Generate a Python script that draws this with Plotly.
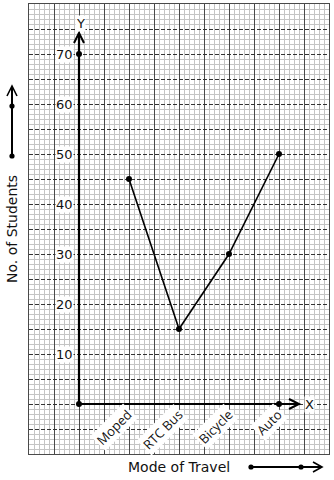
import math
import plotly.graph_objects as go

categories = ["Moped", "RTC Bus", "Bicycle", "Auto"]
students = [45, 15, 30, 50]
y_tick_values = [10, 20, 30, 40, 50, 60, 70]
x_title = "Mode of Travel"
y_title = "No. of Students"

W, H = 334, 480
ML, MR, MT, MB = 29, 5, 4, 26
X_RANGE = [-1, 5]
Y_RANGE = [-10, 80]
PW, PH = W - ML - MR, H - MT - MB
UX = PW / (X_RANGE[1] - X_RANGE[0])   # px per x unit
UY = PH / (Y_RANGE[1] - Y_RANGE[0])   # px per y unit

def pxp(px):  # pixel x -> paper
    return (px - ML) / PW

def pyp(py):  # pixel y -> paper
    return (H - MB - py) / PH

FONT = "DejaVu Sans"
LABEL_SIZE = 13
# approximate Open Sans advance widths (em/1000) for label layout
CW = {"M": 907, "o": 602, "p": 613, "e": 561, "d": 613, "R": 621, "T": 556, "C": 632,
      " ": 260, "B": 648, "u": 613, "s": 479, "i": 258, "c": 480, "y": 501, "l": 258,
      "A": 633, "t": 361}

def text_len(s, size):
    return sum(CW.get(ch, 600) for ch in s) / 1000 * size

xs = list(range(1, len(categories) + 1))

fig = go.Figure()

fig.add_trace(go.Scatter(
    x=xs, y=students, mode="lines+markers",
    line=dict(color="black", width=1.6),
    marker=dict(color="black", size=6),
    hoverinfo="skip", showlegend=False, cliponaxis=False,
))

shapes = []
black = "black"
x_tip = 4.4
y_tip = 74.2
shapes.append(dict(type="line", xref="x", yref="y", x0=0, y0=0, x1=x_tip, y1=0,
                   line=dict(color=black, width=2.2)))
shapes.append(dict(type="line", xref="x", yref="y", x0=0, y0=0, x1=0, y1=y_tip,
                   line=dict(color=black, width=2.2)))
shapes.append(dict(type="path", xref="x", yref="y",
                   path=f"M -0.1,{y_tip-2} L 0,{y_tip} L 0.1,{y_tip-2}",
                   line=dict(color=black, width=2)))
shapes.append(dict(type="path", xref="x", yref="y",
                   path=f"M {x_tip-0.2},1 L {x_tip},0 L {x_tip-0.2},-1",
                   line=dict(color=black, width=2)))

fig.add_trace(go.Scatter(
    x=[0, len(categories), 0], y=[0, 0, y_tick_values[-1]], mode="markers",
    marker=dict(color="black", size=6), hoverinfo="skip", showlegend=False,
    cliponaxis=False,
))

def circle(cx, cy, r=2.6):
    return dict(type="circle", xref="paper", yref="paper",
                x0=pxp(cx - r), x1=pxp(cx + r), y0=pyp(cy + r), y1=pyp(cy - r),
                fillcolor=black, line=dict(color=black, width=0))

by = 467
shapes.append(dict(type="line", xref="paper", yref="paper",
                   x0=pxp(251), y0=pyp(by), x1=pxp(321), y1=pyp(by),
                   line=dict(color=black, width=2)))
shapes.append(dict(type="path", xref="paper", yref="paper",
                   path=f"M {pxp(313)},{pyp(by-5)} L {pxp(322)},{pyp(by)} L {pxp(313)},{pyp(by+5)}",
                   line=dict(color=black, width=1.6)))
shapes.append(circle(251, by))
shapes.append(circle(301, by))

lx = 12
shapes.append(dict(type="line", xref="paper", yref="paper",
                   x0=pxp(lx), y0=pyp(156), x1=pxp(lx), y1=pyp(87),
                   line=dict(color=black, width=2)))
shapes.append(dict(type="path", xref="paper", yref="paper",
                   path=f"M {pxp(lx-5)},{pyp(96)} L {pxp(lx)},{pyp(86)} L {pxp(lx+5)},{pyp(96)}",
                   line=dict(color=black, width=1.6)))
shapes.append(circle(lx, 156))
shapes.append(circle(lx, 106))

annotations = []
for v in y_tick_values:
    annotations.append(dict(x=-5 / UX, y=v, xref="x", yref="y", text=str(v), showarrow=False,
                            xanchor="right", yanchor="middle",
                            bgcolor="white", borderpad=0,
                            font=dict(family=FONT, size=13, color="#111")))
for xv, c in zip(xs, categories):
    side = (text_len(c, LABEL_SIZE) + 15) / math.sqrt(2)
    cx_px = 6 - side / 2
    cy_px = 3 + side / 2
    annotations.append(dict(x=xv + cx_px / UX, y=-cy_px / UY, xref="x", yref="y", text=c,
                            showarrow=False, textangle=-45,
                            xanchor="center", yanchor="middle", bgcolor="white",
                            font=dict(size=LABEL_SIZE, color="#111")))
annotations.append(dict(x=1 / UX, y=y_tip + 1 / UY, xref="x", yref="y", text="Y", showarrow=False,
                        xanchor="center", yanchor="bottom",
                        bgcolor="white", borderpad=0,
                        font=dict(family=FONT, size=13, color="#111")))
annotations.append(dict(x=x_tip + 5 / UX, y=0, xref="x", yref="y", text="X", showarrow=False,
                        xanchor="left", yanchor="middle",
                        bgcolor="white", borderpad=0,
                        font=dict(family=FONT, size=13, color="#111")))
annotations.append(dict(x=pxp(179), y=pyp(467), xref="paper", yref="paper", text=x_title,
                        showarrow=False, xanchor="center", yanchor="middle",
                        font=dict(family=FONT, size=14, color="#111")))
annotations.append(dict(x=pxp(12), y=pyp(229), xref="paper", yref="paper", text=y_title,
                        showarrow=False, xanchor="center", yanchor="middle", textangle=-90,
                        font=dict(family=FONT, size=14, color="#111")))

fig.update_layout(
    width=W, height=H,
    margin=dict(l=ML, r=MR, t=MT, b=MB, pad=0),
    paper_bgcolor="white", plot_bgcolor="white",
    shapes=shapes, annotations=annotations,
    xaxis=dict(range=X_RANGE, showticklabels=False, ticks="", zeroline=False,
               tick0=0, dtick=0.5, showgrid=True, gridcolor="#4a4a4a", gridwidth=1,
               minor=dict(tick0=0, dtick=0.1, showgrid=True, gridcolor="#c4c4c4", gridwidth=1,
                          griddash="solid"),
               showline=True, mirror=True, linecolor="#4a4a4a", linewidth=1),
    yaxis=dict(range=Y_RANGE, showticklabels=False, ticks="", zeroline=False,
               tick0=0, dtick=5, showgrid=True, gridcolor="#333333", gridwidth=1,
               griddash="4px,2px",
               minor=dict(tick0=0, dtick=1, showgrid=True, gridcolor="#c4c4c4", gridwidth=1,
                          griddash="solid"),
               showline=True, mirror=True, linecolor="#4a4a4a", linewidth=1),
    showlegend=False,
)

fig.write_html("out.html")
